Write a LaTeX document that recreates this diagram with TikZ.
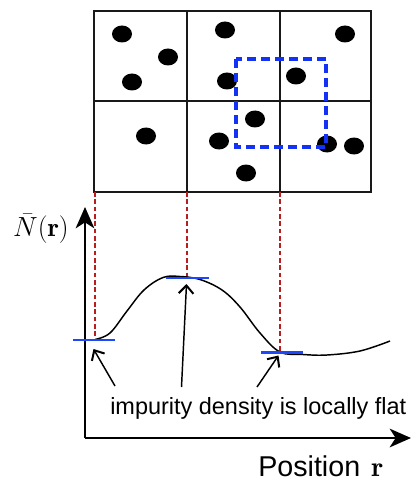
\documentclass[tikz,border=0pt]{standalone}
\usepackage{fontspec}
\newfontfamily\arialfont{Liberation Sans}
\usetikzlibrary{arrows.meta}
\definecolor{sqblue}{RGB}{20,50,245}
\definecolor{tanblue}{RGB}{30,70,250}
\definecolor{dashred}{RGB}{185,30,30}
\tikzset{
  gridline/.style={line width=1.35pt,black!90},
  dot/.style={fill=black},
  guide/.style={dashred,line width=0.9pt,dash pattern=on 3.5pt off 2pt},
  tangent/.style={tanblue,line width=2pt},
  axisline/.style={line width=1.6pt,-{Stealth[length=16pt,width=14pt,inset=4.5pt]}},
  pointer/.style={line width=1.1pt,-{Straight Barb[length=6pt,width=11pt,line width=1.5pt]}},
  labeltext/.style={font=\arialfont\fontsize{17.6pt}{20pt}\selectfont,inner sep=0pt},
}
\begin{document}
\begin{tikzpicture}[x=0.75pt,y=-0.75pt]
\useasboundingbox (0,0) rectangle (411,481);
% grid
\draw[gridline] (94,11) rectangle (371,192);
\draw[gridline] (187,11) -- (187,192) (280,11) -- (280,192) (94,101) -- (371,101);
% dots
\foreach \px/\py in {122/34, 168/57, 132/82, 225/30, 345/34, 227/81, 296/76, 146/136, 219/141, 255/119, 327/144, 354/146, 246/173}
  \fill[dot] (\px,\py) ellipse [x radius=10, y radius=8.5];
% blue dashed square
\draw[sqblue,line width=2.8pt,dash pattern=on 7pt off 3.5pt] (236,59) rectangle (326,147);
% tangent points
\coordinate (p1) at (95,339.5);
\coordinate (p2) at (187,278);
\coordinate (p3) at (280,352.5);
% guides
\coordinate (g1) at (95,192);
\coordinate (g2) at (187,192);
\coordinate (g3) at (280,192);
\draw[guide] (g1) -- (p1);
\draw[guide] (g2) -- (p2);
\draw[guide] (g3) -- (p3);
% axes
\coordinate (origin) at (85,438);
\coordinate (ytip) at (85,207);
\coordinate (xtip) at (411,438);
\draw[axisline] (origin) -- (ytip);
\draw[axisline] (origin) -- (xtip);
% curve
\draw[line width=1.1pt] plot[smooth,tension=0.6] coordinates {(95,339.5) (110,333) (127,311) (144,290) (163,277.5) (180,276.5) (200,279.5) (222,290) (240,307) (260,333) (280,352) (303,354.5) (327,355) (360,351) (390,341)};
% tangents
\draw[tangent] (73,340) -- (115,340);
\draw[tangent] (166,278) -- (209,278);
\draw[tangent] (261,352.5) -- (303,352.5);
% labels
\node[labeltext,anchor=base west] (flat) at (110,414) {impurity density is locally flat};
\coordinate (a1) at (115,386);
\coordinate (a2) at (181.5,387);
\coordinate (a3) at (257,387);
\draw[pointer] (a1) -- (93.5,349);
\draw[pointer] (a2) -- (186.5,284);
\draw[pointer] (a3) -- (278.5,355.5);
\node[inner sep=0pt,anchor=base west,font=\arialfont\fontsize{21.5pt}{24pt}\selectfont] (pos) at (258,476) {Position};
\node[inner sep=0pt,anchor=base west,font=\fontsize{21pt}{24pt}\selectfont] (posr) at (371,476) {$\mathbf{r}$};
\node[inner sep=0pt,font=\fontsize{20pt}{24pt}\selectfont] (nlabel) at (41,229) {$\bar{N}\big(\mathbf{r}\big)$};
\end{tikzpicture}
\end{document}
